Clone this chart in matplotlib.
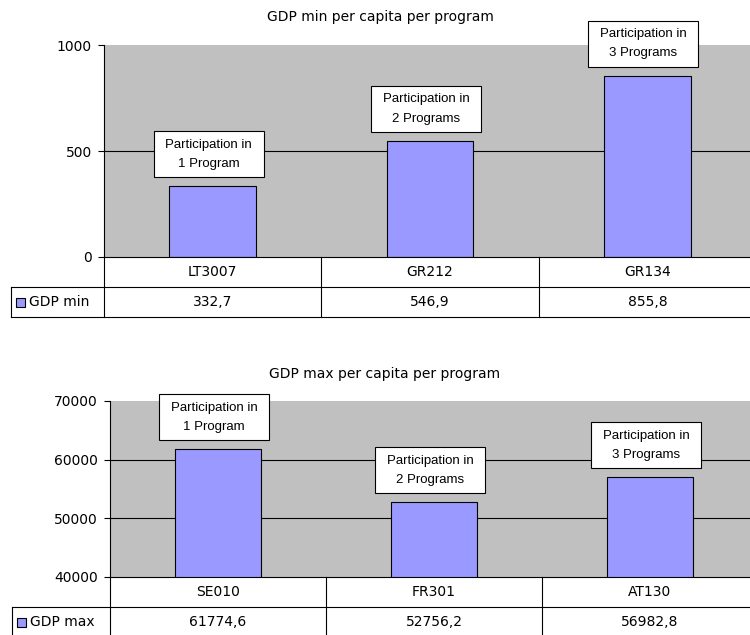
import matplotlib
matplotlib.use('Agg')
import matplotlib.pyplot as plt
import matplotlib.transforms as mtransforms
from matplotlib.patches import Rectangle

plt.rcParams['font.family'] = ['DejaVu Sans']

# ---------------- data ----------------
min_regions = ['LT3007', 'GR212', 'GR134']
min_values = [332.7, 546.9, 855.8]
max_regions = ['SE010', 'FR301', 'AT130']
max_values = [61774.6, 52756.2, 56982.8]
participation = ['Participation in\n1 Program',
                 'Participation in\n2 Programs',
                 'Participation in\n3 Programs']
min_ticks = [0, 500, 1000]
max_ticks = [40000, 50000, 60000, 70000]

W, H = 750, 635
FS = 10
BOX_FONT = ['Liberation Sans', 'DejaVu Sans']
BOX_FS = 9.5
LW = 0.8
BAR_COLOR = '#9999FF'
BG = '#C0C0C0'

fig = plt.figure(figsize=(W / 100, H / 100), dpi=100)


def rect(l, t, r, b):
    return [l / W, 1 - b / H, (r - l) / W, (b - t) / H]


def fmt(v):
    return f"{v:.1f}".replace('.', ',')


def panel(title, title_x, title_y, box, leg_left, regions, values, name,
          ylim, yticks):
    l, t, r, b = box
    ax = fig.add_axes(rect(l, t, r, b))
    ax.set_facecolor(BG)
    x = list(range(len(regions)))
    ax.set_xlim(-0.5, len(regions) - 0.5)
    ax.set_ylim(*ylim)
    ax.set_yticks(yticks)
    ax.set_yticklabels([str(v) for v in yticks], fontsize=FS)
    ax.set_xticks([])
    ax.tick_params(axis='y', direction='out', length=4.3, width=LW, pad=4.3,
                   colors='black')
    for s in ['top', 'right', 'bottom']:
        ax.spines[s].set_visible(False)
    ax.spines['left'].set_linewidth(LW)
    for yv in yticks[1:-1]:
        ax.axhline(yv, color='black', lw=LW, zorder=1)
    ax.bar(x, values, width=0.4, color=BAR_COLOR, edgecolor='black',
           linewidth=LW, zorder=2)

    # annotation boxes
    bw, bh, gap = 110, 46, 9
    for i, (v, txt) in enumerate(zip(values, participation)):
        tr = mtransforms.Affine2D() + mtransforms.ScaledTranslation(
            i, v, ax.transData)
        ax.add_patch(Rectangle((-bw / 2 - 4, gap), bw, bh, transform=tr,
                               facecolor='white', edgecolor='black', lw=LW,
                               clip_on=False, zorder=4))
        ax.text(-4, gap + bh / 2, txt, transform=tr, ha='center', va='center',
                fontsize=BOX_FS, family=BOX_FONT, linespacing=1.8,
                multialignment='center', zorder=5, clip_on=False)

    fig.text(title_x / W, 1 - title_y / H, title, ha='center', va='center',
             fontsize=FS)

    # data table
    tax = fig.add_axes(rect(l, b, r, b + 60), sharex=ax)
    tax.set_ylim(0, 2)
    tax.axis('off')
    n = len(regions)
    leg_x = -0.5 + (leg_left - l) / (r - l) * n
    kw = dict(color='black', lw=LW, clip_on=False)
    tax.plot([-0.5, n - 0.5], [2, 2], **kw)
    tax.plot([leg_x, n - 0.5], [1, 1], **kw)
    tax.plot([leg_x, n - 0.5], [0, 0], **kw)
    tax.plot([-0.5, -0.5], [0, 2], **kw)
    tax.plot([leg_x, leg_x], [0, 1], **kw)
    for k in range(1, n):
        tax.plot([k - 0.5, k - 0.5], [0, 2], **kw)
    for i, (reg, v) in enumerate(zip(regions, values)):
        tax.text(i, 1.5, reg, ha='center', va='center', fontsize=FS,
                 clip_on=False)
        tax.text(i, 0.5, fmt(v), ha='center', va='center', fontsize=FS,
                 clip_on=False)
    # legend key
    px = n / (r - l)
    tax.add_patch(Rectangle((leg_x + 5 * px, 0.5 - 4.5 / 30), 9 * px, 9 / 30,
                            facecolor=BAR_COLOR, edgecolor='black', lw=LW,
                            clip_on=False))
    tax.text(leg_x + 18 * px, 0.5, name, ha='left', va='center', fontsize=FS,
             clip_on=False)
    return ax


panel('GDP min per capita per program', 380, 17, (104, 45, 756, 257), 11,
      min_regions, min_values, 'GDP min', (0, 1000), min_ticks)
panel('GDP max per capita per program', 385, 374, (110, 401, 758, 577), 12,
      max_regions, max_values, 'GDP max', (40000, 70000), max_ticks)

fig.savefig('out.png', dpi=100, facecolor='white')
